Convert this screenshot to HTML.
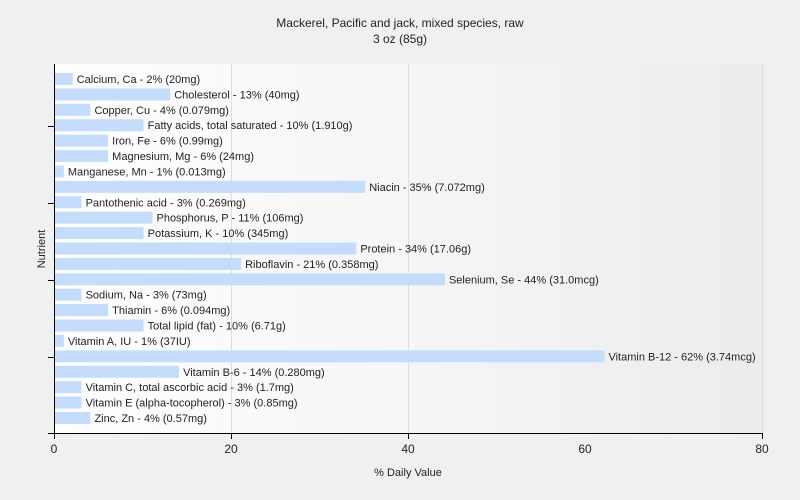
<!DOCTYPE html>
<html><head><meta charset="utf-8"><style>
body{margin:0;background:#f0f0f0;}
svg{display:block;font-family:"Liberation Sans",sans-serif;}
</style></head><body>
<svg width="800" height="500" xmlns="http://www.w3.org/2000/svg">
<defs><linearGradient id="g" x1="0" y1="0" x2="1" y2="0"><stop offset="0" stop-color="#ffffff"/><stop offset="1" stop-color="#ececec"/></linearGradient></defs>
<rect width="800" height="500" fill="#f0f0f0"/>
<rect x="54" y="64" width="709" height="370" fill="url(#g)"/>
<g stroke="#dddddd" stroke-width="1">
<line x1="231.5" y1="64" x2="231.5" y2="434"/>
<line x1="408.5" y1="64" x2="408.5" y2="434"/>
<line x1="762.5" y1="64" x2="762.5" y2="434"/>
</g>
<text x="400" y="27" font-size="12" text-anchor="middle" fill="#222">Mackerel, Pacific and jack, mixed species, raw</text>
<text x="400" y="43" font-size="12" text-anchor="middle" fill="#222">3 oz (85g)</text>
<g id="bars" font-size="11" fill="#222"></g>
<g stroke="#000" stroke-width="1">
<line x1="54.5" y1="64" x2="54.5" y2="434"/>
<line x1="48" y1="433.5" x2="763" y2="433.5"/>
<line x1="48" y1="126.5" x2="54" y2="126.5"/>
<line x1="48" y1="203.5" x2="54" y2="203.5"/>
<line x1="48" y1="280.5" x2="54" y2="280.5"/>
<line x1="48" y1="357.5" x2="54" y2="357.5"/>
<line x1="54.5" y1="434" x2="54.5" y2="439"/>
<line x1="231.5" y1="434" x2="231.5" y2="439"/>
<line x1="408.5" y1="434" x2="408.5" y2="439"/>
<line x1="762.5" y1="434" x2="762.5" y2="439"/>
</g>
<g font-size="12" fill="#222" text-anchor="middle">
<text x="54" y="453">0</text><text x="231" y="453">20</text><text x="408" y="453">40</text><text x="585" y="453">60</text><text x="762" y="453">80</text>
<text x="408" y="476" font-size="11">% Daily Value</text>
<text x="45" y="249" font-size="11" transform="rotate(-90 45 249)">Nutrient</text>
</g>
<script>
var d=[["Calcium, Ca - 2% (20mg)",2],["Cholesterol - 13% (40mg)",13],["Copper, Cu - 4% (0.079mg)",4],["Fatty acids, total saturated - 10% (1.910g)",10],["Iron, Fe - 6% (0.99mg)",6],["Magnesium, Mg - 6% (24mg)",6],["Manganese, Mn - 1% (0.013mg)",1],["Niacin - 35% (7.072mg)",35],["Pantothenic acid - 3% (0.269mg)",3],["Phosphorus, P - 11% (106mg)",11],["Potassium, K - 10% (345mg)",10],["Protein - 34% (17.06g)",34],["Riboflavin - 21% (0.358mg)",21],["Selenium, Se - 44% (31.0mcg)",44],["Sodium, Na - 3% (73mg)",3],["Thiamin - 6% (0.094mg)",6],["Total lipid (fat) - 10% (6.71g)",10],["Vitamin A, IU - 1% (37IU)",1],["Vitamin B-12 - 62% (3.74mcg)",62],["Vitamin B-6 - 14% (0.280mg)",14],["Vitamin C, total ascorbic acid - 3% (1.7mg)",3],["Vitamin E (alpha-tocopherol) - 3% (0.85mg)",3],["Zinc, Zn - 4% (0.57mg)",4]];
d.splice(17,0);
var g=document.getElementById("bars"),s="",ns="http://www.w3.org/2000/svg";
var h="";
for(var i=0;i<d.length;i++){var c=79+14.74*i*23/22*(22/22);}
</script>
<g font-size="11" fill="#222">
</g>
</svg>
<script>
(function(){
var d=[["Calcium, Ca - 2% (20mg)",2],["Cholesterol - 13% (40mg)",13],["Copper, Cu - 4% (0.079mg)",4],["Fatty acids, total saturated - 10% (1.910g)",10],["Iron, Fe - 6% (0.99mg)",6],["Magnesium, Mg - 6% (24mg)",6],["Manganese, Mn - 1% (0.013mg)",1],["Niacin - 35% (7.072mg)",35],["Pantothenic acid - 3% (0.269mg)",3],["Phosphorus, P - 11% (106mg)",11],["Potassium, K - 10% (345mg)",10],["Protein - 34% (17.06g)",34],["Riboflavin - 21% (0.358mg)",21],["Selenium, Se - 44% (31.0mcg)",44],["Sodium, Na - 3% (73mg)",3],["Thiamin - 6% (0.094mg)",6],["Total lipid (fat) - 10% (6.71g)",10],["Vitamin A, IU - 1% (37IU)",1],["Vitamin B-12 - 62% (3.74mcg)",62],["Vitamin B-6 - 14% (0.280mg)",14],["Vitamin C, total ascorbic acid - 3% (1.7mg)",3],["Vitamin E (alpha-tocopherol) - 3% (0.85mg)",3],["Zinc, Zn - 4% (0.57mg)",4]];
var g=document.getElementById("bars"),ns="http://www.w3.org/2000/svg";
var pitch=(418-79)/(d.length-1);
for(var i=0;i<d.length;i++){
 var c=79+pitch*i,w=d[i][1]*8.8625;
 var r=document.createElementNS(ns,"rect");
 r.setAttribute("x",55);r.setAttribute("y",c-6);r.setAttribute("width",w);r.setAttribute("height",12);r.setAttribute("fill","#c5ddfb");
 g.appendChild(r);
 var t=document.createElementNS(ns,"text");
 t.setAttribute("x",55+w+4);t.setAttribute("y",c+4);t.textContent=d[i][0];
 g.appendChild(t);
}
})();
</script>
</body></html>
